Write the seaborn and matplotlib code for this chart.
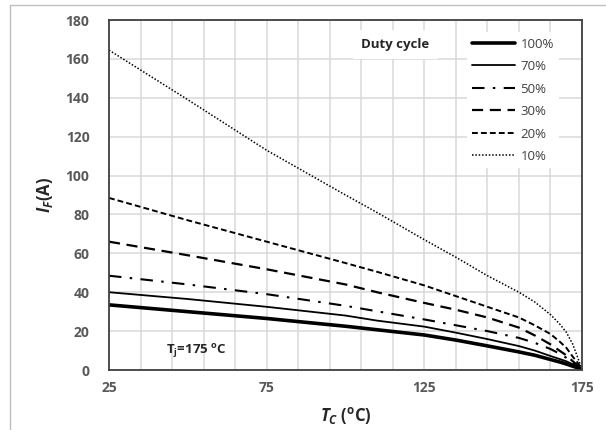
import numpy as np
import pandas as pd
import seaborn as sns
import matplotlib.pyplot as plt
from matplotlib.lines import Line2D

sns.set_style("white")
plt.rcParams['font.family'] = ['Open Sans', 'DejaVu Sans']
plt.rcParams['mathtext.fontset'] = 'custom'
plt.rcParams['mathtext.it'] = 'Open Sans:italic:bold'
plt.rcParams['mathtext.rm'] = 'Open Sans:bold'
plt.rcParams['mathtext.bf'] = 'Open Sans:bold'

# case temperature (degC)
tc = [25, 50, 75, 100, 110, 125, 135, 145, 155, 160, 165, 168, 170, 172, 173.5, 175]

# forward current (A) per duty cycle
if_100 = [33.5, 30.0, 26.5, 22.5, 20.7, 18.0, 15.4, 12.4, 9.3, 7.6, 5.4, 4.1, 3.1, 2.0, 1.2, 0.5]
if_70 = [40.0, 36.5, 32.5, 28.0, 25.4, 22.3, 19.2, 15.9, 12.3, 10.0, 7.2, 5.6, 4.5, 3.0, 1.8, 0.5]
if_50 = [48.5, 44.0, 39.0, 33.0, 30.2, 26.0, 23.0, 20.0, 16.5, 14.0, 10.8, 8.3, 6.3, 3.9, 2.2, 0.5]
if_30 = [66.0, 59.0, 51.8, 44.0, 40.0, 34.5, 31.0, 27.0, 21.8, 17.8, 13.2, 9.8, 7.6, 4.6, 2.5, 0.5]
if_20 = [88.5, 77.0, 66.0, 55.0, 50.5, 43.5, 38.0, 32.5, 27.0, 23.0, 18.5, 14.5, 11.5, 7.0, 4.0, 0.5]
if_10 = [164.5, 139.0, 113.0, 90.0, 81.0, 67.0, 58.0, 48.5, 40.0, 35.0, 28.5, 23.5, 19.5, 13.5, 7.0, 0.5]

duty_labels = ['100%', '70%', '50%', '30%', '20%', '10%']
series = [if_100, if_70, if_50, if_30, if_20, if_10]

# line styles per duty cycle
styles = {
    '100%': dict(lw=2.6, dashes=None),
    '70%': dict(lw=1.3, dashes=None),
    '50%': dict(lw=1.5, dashes=(6, 4, 1.2, 4)),
    '30%': dict(lw=1.6, dashes=(5, 3)),
    '20%': dict(lw=1.4, dashes=(3, 1.6)),
    '10%': dict(lw=1.1, dashes=(1, 1.2)),
}

df = pd.DataFrame({'Tc': tc * len(series),
                   'If': np.concatenate(series),
                   'duty': np.repeat(duty_labels, len(tc))})

fig = plt.figure(figsize=(6.06, 4.30), dpi=100)
ax = fig.add_axes([109 / 606, 1 - 370 / 430, 473 / 606, 350 / 430])

handles = []
for name in duty_labels:
    sub = df[df['duty'] == name]
    st = styles[name]
    sns.lineplot(data=sub, x='Tc', y='If', ax=ax, color='black', lw=st['lw'],
                 sort=False, legend=False)
    h = Line2D([], [], color='black', lw=st['lw'])
    if st['dashes'] is not None:
        ax.lines[-1].set_dashes(st['dashes'])
        h.set_dashes(st['dashes'])
    handles.append(h)

ax.set_xlim(25, 175)
ax.set_ylim(0, 180)
ax.set_xticks([25, 75, 125, 175])
ax.set_xticks(np.arange(25, 176, 10), minor=True)
ax.set_yticks(np.arange(0, 181, 20))
ax.grid(True, which='both', color='#d9d9d9', lw=1.1)
ax.set_axisbelow(True)
ax.tick_params(axis='both', which='both', length=0, labelsize=10, colors='#595959')
ax.tick_params(axis='y', pad=14)
ax.tick_params(axis='x', pad=8)
for lab in ax.get_xticklabels() + ax.get_yticklabels():
    lab.set_fontweight('bold')
for sp in ax.spines.values():
    sp.set_color('#404040')
    sp.set_linewidth(1.3)

ax.set_xlabel(r'$T_C$ ($^{\mathrm{o}}$C)', fontsize=12, fontweight='bold', color='#262626', labelpad=7)
ax.set_ylabel(r'$I_F$(A)', fontsize=12, fontweight='bold', color='#262626', labelpad=8)

ax.text(0.185, 0.055, r'T$_\mathrm{j}$=175 $^\mathrm{o}$C', transform=ax.transAxes,
        ha='center', va='center', fontsize=9.5, fontweight='bold', color='#262626')
ax.text(0.605, 0.93, 'Duty cycle', transform=ax.transAxes, ha='center', va='center',
        fontsize=9.5, fontweight='bold', color='#262626',
        bbox=dict(facecolor='white', edgecolor='none', pad=6))

leg = ax.legend(handles, duty_labels, loc='upper left', bbox_to_anchor=(0.757, 0.965),
                frameon=True, fontsize=9.5, handlelength=3.2, handletextpad=0.45,
                labelspacing=0.72, borderpad=0.4, borderaxespad=0)
leg.get_frame().set_facecolor('white')
leg.get_frame().set_edgecolor('none')
leg.get_frame().set_alpha(1)
for t in leg.get_texts():
    t.set_color('#404040')

# thin outer frame of the image
fig.add_artist(Line2D([10 / 606, 10 / 606], [0, 1 - 5 / 430], color='#bfbfbf', lw=1))
fig.add_artist(Line2D([10 / 606, 1], [1 - 5 / 430, 1 - 5 / 430], color='#bfbfbf', lw=1))

fig.savefig('out.png', dpi=100)
